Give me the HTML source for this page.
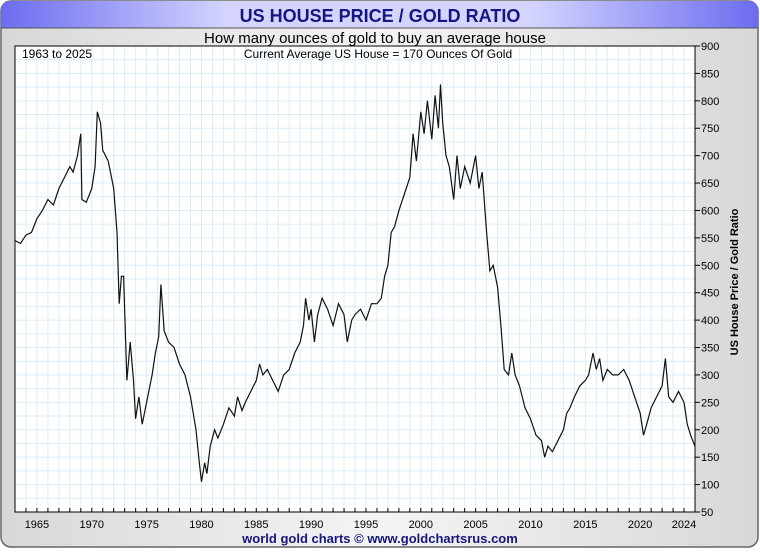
<!DOCTYPE html>
<html><head><meta charset="utf-8"><style>
body{margin:0;width:760px;height:550px;background:#fff;font-family:"Liberation Sans",sans-serif;overflow:hidden}
</style></head><body>
<svg width="760" height="550" xmlns="http://www.w3.org/2000/svg">
<defs>
<linearGradient id="hg" x1="0" x2="1" y1="0" y2="0">
<stop offset="0" stop-color="#6c6cf0"/><stop offset="0.3" stop-color="#d4d4ff"/><stop offset="0.7" stop-color="#d4d4ff"/><stop offset="1" stop-color="#6c6cf0"/>
</linearGradient>
<linearGradient id="bg" x1="0" x2="1" y1="0" y2="0">
<stop offset="0" stop-color="#d8d8d8"/><stop offset="0.5" stop-color="#f4f4f4"/><stop offset="1" stop-color="#d8d8d8"/>
</linearGradient>
</defs>
<rect x="1" y="1" width="757" height="546" rx="10" fill="url(#bg)" stroke="#666" stroke-width="1.5"/>
<path d="M1,28 L1,11 Q1,1 11,1 L748,1 Q758,1 758,11 L758,28 Z" fill="url(#hg)"/>
<line x1="1" y1="28" x2="758" y2="28" stroke="#555" stroke-width="1"/>
<text x="380" y="22" text-anchor="middle" font-size="18" font-weight="bold" fill="#161680">US HOUSE PRICE / GOLD RATIO</text>
<text x="375" y="43" text-anchor="middle" font-size="15" fill="#000">How many ounces of gold to buy an average house</text>
<rect x="15" y="46" width="680" height="466" fill="#fff"/>
<g id="grid"></g>
<g id="series"></g>
<rect x="15" y="46" width="680" height="466" fill="none" stroke="#000" stroke-width="1"/>
<text x="22" y="58" font-size="12" fill="#000">1963 to 2025</text>
<text x="378" y="58" text-anchor="middle" font-size="12" fill="#000">Current Average US House = 170 Ounces Of Gold</text>
<g id="yaxis"></g>
<g id="xaxis"></g>
<text transform="translate(738,282) rotate(-90)" text-anchor="middle" font-size="11" font-weight="bold" fill="#000">US House Price / Gold Ratio</text>
<text x="380" y="543" text-anchor="middle" font-size="13" font-weight="bold" fill="#161680">world gold charts © www.goldchartsrus.com</text>
</svg>
<script>
const years=[1963,1963.5,1964,1964.5,1965,1965.5,1966,1966.5,1967,1967.5,1968,1968.3,1968.7,1969,1969.1,1969.5,1970,1970.3,1970.5,1970.8,1971,1971.5,1972,1972.3,1972.5,1972.7,1972.9,1973.2,1973.5,1973.8,1974,1974.3,1974.6,1975,1975.5,1975.8,1976.1,1976.3,1976.6,1977,1977.5,1978,1978.5,1979,1979.5,1979.8,1980,1980.3,1980.5,1980.8,1981.2,1981.5,1982,1982.5,1983,1983.3,1983.7,1984,1984.5,1985,1985.3,1985.6,1986,1986.5,1987,1987.5,1988,1988.5,1989,1989.3,1989.5,1989.8,1990,1990.3,1990.6,1991,1991.5,1992,1992.5,1993,1993.3,1993.7,1994,1994.5,1995,1995.5,1996,1996.4,1996.7,1997,1997.3,1997.6,1998,1998.5,1999,1999.3,1999.6,2000,2000.3,2000.6,2001,2001.3,2001.6,2001.8,2002,2002.3,2002.6,2003,2003.3,2003.6,2004,2004.5,2005,2005.3,2005.6,2006,2006.3,2006.6,2007,2007.3,2007.6,2008,2008.3,2008.6,2009,2009.5,2010,2010.5,2011,2011.3,2011.6,2012,2012.5,2013,2013.3,2013.6,2014,2014.5,2015,2015.3,2015.7,2016,2016.3,2016.6,2017,2017.5,2018,2018.5,2019,2019.5,2020,2020.3,2020.6,2021,2021.5,2022,2022.3,2022.6,2023,2023.5,2024,2024.3,2024.6,2025];
const ratio=[545,540,555,560,585,600,620,610,640,660,680,670,700,740,620,615,640,680,780,760,710,690,640,560,430,480,480,290,360,290,220,260,210,250,300,340,370,465,380,360,350,320,300,260,200,140,105,140,120,170,200,185,210,240,225,260,235,250,270,290,320,300,310,290,270,300,310,340,360,390,440,400,420,360,410,440,420,390,430,410,360,400,410,420,400,430,430,440,480,500,560,570,600,630,660,740,690,780,740,800,730,810,750,830,760,700,680,620,700,640,680,650,700,640,670,560,490,500,460,390,310,300,340,300,280,240,220,190,180,150,170,160,180,200,230,240,260,280,290,300,340,310,330,290,310,300,300,310,290,260,230,190,210,240,260,280,330,260,250,270,250,210,190,170];
const yTicks=[50,100,150,200,250,300,350,400,450,500,550,600,650,700,750,800,850,900];
const xTickLabels=[1965,1970,1975,1980,1985,1990,1995,2000,2005,2010,2015,2020,2024];
const NS="http://www.w3.org/2000/svg";
const X0=15,X1=695,Y0=46,Y1=512;
function xs(t){return X0+(t-1963)/(2025-1963)*(X1-X0);}
function ys(v){return Y1-(v-50)/(900-50)*(Y1-Y0);}
function mk(tag,attrs,parent){const e=document.createElementNS(NS,tag);for(const k in attrs)e.setAttribute(k,attrs[k]);parent.appendChild(e);return e;}
const grid=document.getElementById('grid'),ya=document.getElementById('yaxis'),xa=document.getElementById('xaxis'),ser=document.getElementById('series');
for(let y=1964;y<2025;y++){const l=mk('line',{x1:xs(y),x2:xs(y),y1:Y0,y2:Y1,stroke:'#dcecf8','stroke-width':1},grid);


const t=mk('line',{x1:xs(y),x2:xs(y),y1:Y1,y2:Y1-4,stroke:'#000'},xa);

}
for(let v=75;v<900;v+=25){const l=mk('line',{x1:X0,x2:X1,y1:ys(v),y2:ys(v),stroke:'#dcecf8','stroke-width':1},grid);

}
yTicks.forEach(v=>{const t=mk('line',{x1:X1,x2:X1+5,y1:ys(v),y2:ys(v),stroke:'#000'},ya);


const tx=mk('text',{x:X1+6,y:ys(v)+4,'font-size':11,fill:'#000'},ya);tx.textContent=v;

});
xTickLabels.forEach(y=>{const tx=mk('text',{x:xs(y),y:Y1+16,'font-size':11,'text-anchor':'middle',fill:'#000'},xa);tx.textContent=y;

});
const d=years.map((t,i)=>(i?'L':'M')+xs(t).toFixed(1)+','+ys(ratio[i]).toFixed(1)).join(' ');
const p=mk('path',{d:d,fill:'none',stroke:'#111','stroke-width':1.2},ser);


</script>
</body></html>
